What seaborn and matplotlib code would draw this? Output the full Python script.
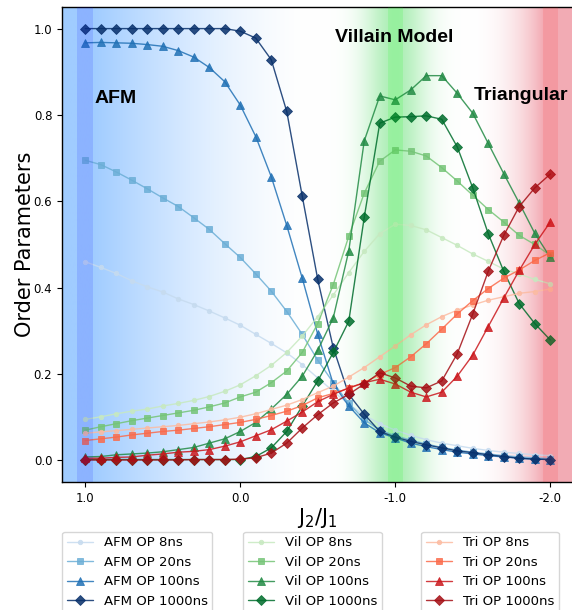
import matplotlib
matplotlib.use("Agg")
import matplotlib.pyplot as plt
import numpy as np
import seaborn as sns
import pandas as pd

j_ratio = [1.0, 0.9, 0.8, 0.7, 0.6, 0.5, 0.4, 0.3, 0.2, 0.1, 0.0,
           -0.1, -0.2, -0.3, -0.4, -0.5, -0.6, -0.7, -0.8, -0.9, -1.0,
           -1.1, -1.2, -1.3, -1.4, -1.5, -1.6, -1.7, -1.8, -1.9, -2.0]

afm_8 = [0.460, 0.447, 0.433, 0.416, 0.402, 0.390, 0.374, 0.361, 0.346, 0.330, 0.313,
         0.292, 0.271, 0.249, 0.222, 0.191, 0.160, 0.130, 0.105, 0.085, 0.070,
         0.058, 0.048, 0.040, 0.034, 0.028, 0.023, 0.019, 0.016, 0.013, 0.011]
afm_20 = [0.695, 0.685, 0.668, 0.649, 0.629, 0.608, 0.588, 0.562, 0.535, 0.502, 0.470,
          0.432, 0.392, 0.345, 0.292, 0.232, 0.180, 0.132, 0.095, 0.070, 0.057,
          0.047, 0.038, 0.030, 0.024, 0.019, 0.015, 0.011, 0.008, 0.006, 0.004]
afm_100 = [0.967, 0.968, 0.967, 0.966, 0.963, 0.959, 0.949, 0.934, 0.910, 0.877, 0.823,
           0.750, 0.657, 0.544, 0.422, 0.292, 0.177, 0.126, 0.087, 0.064, 0.052,
           0.040, 0.032, 0.025, 0.019, 0.015, 0.011, 0.008, 0.005, 0.003, 0.002]
afm_1000 = [1.0, 1.0, 1.0, 1.0, 1.0, 1.0, 1.0, 1.0, 1.0, 1.0, 0.994,
            0.978, 0.928, 0.808, 0.612, 0.419, 0.261, 0.153, 0.107, 0.067, 0.054,
            0.044, 0.036, 0.029, 0.022, 0.018, 0.013, 0.009, 0.005, 0.003, 0.002]

vil_8 = [0.095, 0.101, 0.108, 0.114, 0.119, 0.126, 0.132, 0.139, 0.148, 0.160, 0.175,
         0.196, 0.220, 0.250, 0.288, 0.333, 0.383, 0.435, 0.484, 0.525, 0.547,
         0.544, 0.534, 0.516, 0.498, 0.478, 0.461, 0.443, 0.432, 0.419, 0.409]
vil_20 = [0.070, 0.078, 0.085, 0.092, 0.098, 0.104, 0.110, 0.116, 0.124, 0.133, 0.147,
          0.158, 0.180, 0.207, 0.250, 0.317, 0.407, 0.519, 0.619, 0.693, 0.719,
          0.716, 0.705, 0.678, 0.647, 0.614, 0.581, 0.552, 0.521, 0.500, 0.475]
vil_100 = [0.008, 0.009, 0.013, 0.015, 0.017, 0.020, 0.025, 0.030, 0.040, 0.050, 0.067,
           0.088, 0.119, 0.153, 0.195, 0.255, 0.330, 0.485, 0.740, 0.844, 0.835,
           0.858, 0.891, 0.891, 0.850, 0.804, 0.734, 0.664, 0.596, 0.526, 0.470]
vil_1000 = [0.002, 0.002, 0.002, 0.002, 0.002, 0.002, 0.002, 0.002, 0.002, 0.002, 0.002,
            0.009, 0.029, 0.067, 0.126, 0.184, 0.250, 0.322, 0.563, 0.781, 0.795,
            0.796, 0.798, 0.790, 0.726, 0.631, 0.525, 0.438, 0.363, 0.317, 0.279]

tri_8 = [0.063, 0.066, 0.069, 0.072, 0.075, 0.078, 0.081, 0.085, 0.089, 0.094, 0.100,
         0.108, 0.118, 0.128, 0.141, 0.157, 0.172, 0.193, 0.215, 0.240, 0.265,
         0.291, 0.314, 0.333, 0.348, 0.360, 0.371, 0.379, 0.387, 0.391, 0.397]
tri_20 = [0.046, 0.050, 0.054, 0.059, 0.063, 0.067, 0.070, 0.074, 0.078, 0.083, 0.088,
          0.095, 0.104, 0.114, 0.127, 0.145, 0.155, 0.167, 0.180, 0.199, 0.215,
          0.240, 0.270, 0.304, 0.339, 0.370, 0.398, 0.422, 0.441, 0.463, 0.481]
tri_100 = [0.005, 0.005, 0.007, 0.008, 0.012, 0.015, 0.019, 0.021, 0.025, 0.033, 0.043,
           0.057, 0.071, 0.091, 0.112, 0.136, 0.153, 0.168, 0.180, 0.188, 0.177,
           0.158, 0.147, 0.158, 0.195, 0.244, 0.310, 0.376, 0.440, 0.500, 0.552]
tri_1000 = [0.001, 0.001, 0.001, 0.001, 0.001, 0.001, 0.001, 0.002, 0.002, 0.002, 0.003,
            0.006, 0.017, 0.040, 0.075, 0.106, 0.133, 0.153, 0.177, 0.203, 0.191,
            0.172, 0.168, 0.184, 0.247, 0.339, 0.438, 0.521, 0.588, 0.631, 0.663]

times = ["8ns", "20ns", "100ns", "1000ns"]
markers = ["o", "s", "^", "D"]
msizes = [3.2, 4.2, 5.8, 5.2]
groups = {
    "AFM OP": ([afm_8, afm_20, afm_100, afm_1000], ["#c6dbef", "#6baed6", "#2171b5", "#08306b"]),
    "Vil OP": ([vil_8, vil_20, vil_100, vil_1000], ["#c7e9c0", "#74c476", "#238b45", "#006d2c"]),
    "Tri OP": ([tri_8, tri_20, tri_100, tri_1000], ["#fcbba1", "#fb6a4a", "#cb181d", "#a50f15"]),
}

sns.set_style("ticks", {"axes.edgecolor": "black", "xtick.color": "black",
                        "ytick.color": "black", "text.color": "black",
                        "axes.labelcolor": "black"})
plt.rcParams["font.family"] = ["DejaVu Sans"]

fig = plt.figure(figsize=(5.72, 6.10), dpi=100)
ax = fig.add_axes([62 / 572, 1 - 482 / 610, 511.5 / 572, 475 / 610])
xmin, xmax = 1.15, -2.15

# background gradient (blue -> white -> green -> white -> red)
xs = np.linspace(xmin, xmax, 1200)
wb = np.clip((xs + 0.45) / 1.4, 0, 1) ** 1.5
wg = np.exp(-((xs + 1.0) / 0.2) ** 2)
wr = np.clip((-xs - 1.45) / 0.5, 0, 1) ** 2.5
cb = np.array([160, 204, 255]) / 255
cg = np.array([173, 238, 182]) / 255
cr = np.array([243, 172, 181]) / 255
w_all = wb + wg + wr
rgb = (1 - w_all)[:, None] + wb[:, None] * cb + wg[:, None] * cg + wr[:, None] * cr
img = np.clip(rgb, 0, 1)[None, :, :]
ax.imshow(img, extent=(xmin, xmax, 0, 1), aspect="auto", zorder=0,
          transform=ax.get_xaxis_transform(), interpolation="bilinear")

handles_by_group = {}
for gname, (series, colors) in groups.items():
    hs = []
    for vals, col, mk, ms, t in zip(series, colors, markers, msizes, times):
        df = pd.DataFrame({"J": j_ratio, "OP": vals})
        sns.lineplot(data=df, x="J", y="OP", ax=ax, color=col, marker=mk,
                     markersize=ms, linewidth=1.0, alpha=0.85,
                     markeredgecolor=col, markeredgewidth=0.6,
                     label=f"{gname} {t}", legend=False, zorder=2)
        hs.append(ax.lines[-1])
    handles_by_group[gname] = hs

# highlight bands drawn over the data
ax.axvspan(0.95, 1.05, color="blue", alpha=0.12, lw=0, zorder=3)
ax.axvspan(-0.95, -1.05, color="lime", alpha=0.12, lw=0, zorder=3)
ax.axvspan(-1.95, -2.05, color="red", alpha=0.1, lw=0, zorder=3)

ax.set_xlim(xmin, xmax)
ax.set_ylim(-0.05, 1.05)
ax.set_xticks([1.0, 0.0, -1.0, -2.0])
ax.set_xticklabels(["1.0", "0.0", "-1.0", "-2.0"])
ax.set_yticks([0.0, 0.2, 0.4, 0.6, 0.8, 1.0])
ax.set_yticklabels(["0.0", "0.2", "0.4", "0.6", "0.8", "1.0"])
ax.tick_params(labelsize=8.5, length=3.5, width=0.8)
for sp in ax.spines.values():
    sp.set_visible(True)
    sp.set_linewidth(1.0)
ax.set_xlabel("J$_2$/J$_1$", fontsize=15, labelpad=1)
ax.set_ylabel("Order Parameters", fontsize=15, labelpad=-1)

txt = dict(fontsize=14, fontweight="bold", family="Liberation Sans", zorder=5)
ax.text(0.94, 0.828, "AFM", ha="left", va="baseline", **txt)
ax.text(-0.613, 0.968, "Villain Model", ha="left", va="baseline", **txt)
ax.text(-1.505, 0.835, "Triangular", ha="left", va="baseline", **txt)

lefts = [62, 243, 421]
for left, (gname, hs) in zip(lefts, handles_by_group.items()):
    fig.legend(handles=hs, labels=[h.get_label() for h in hs], loc="upper left",
               bbox_to_anchor=(left / 572, 1 - 531.5 / 610), borderaxespad=0,
               fontsize=9.5, labelspacing=0.5, borderpad=0.35, frameon=True)

fig.savefig("out.png", dpi=100)
